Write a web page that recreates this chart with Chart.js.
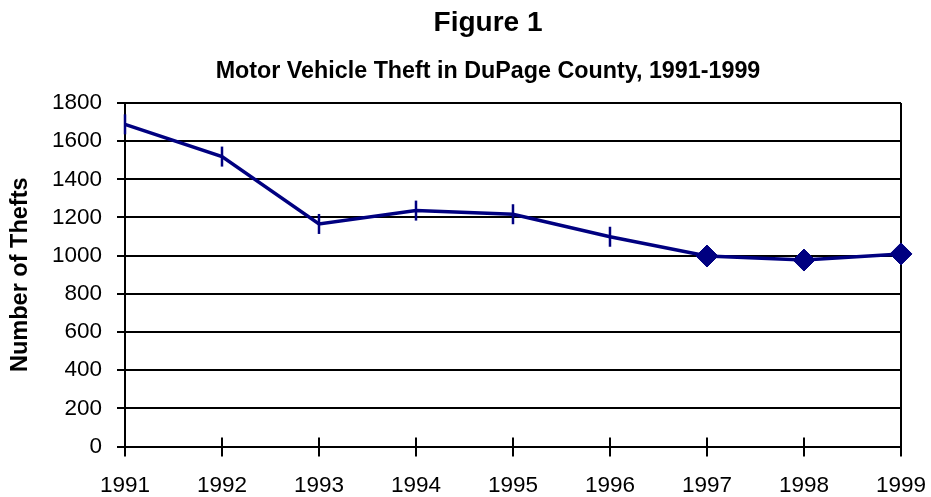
<!DOCTYPE html>
<html>
<head>
<meta charset="utf-8">
<script src="https://cdn.jsdelivr.net/npm/chart.js@4.4.0/dist/chart.umd.min.js"></script>
<style>
html,body{margin:0;padding:0;background:#fff;}
#wrap{width:931px;height:497px;}
</style>
</head>
<body>
<div id="wrap"><canvas id="c" width="931" height="497"></canvas></div>
<script>
// ---- data ----
const years = ['1991', '1992', '1993', '1994', '1995', '1996', '1997', '1998', '1999'];
const thefts = [1688, 1519, 1166, 1236, 1217, 1099, 998, 977, 1009];
const chartTitle = 'Figure 1';
const chartSubtitle = 'Motor Vehicle Theft in DuPage County, 1991-1999';
const yAxisTitle = 'Number of Thefts';
const yMin = 0, yMax = 1800, yStep = 200;
const diamondFromYear = '1997';

const FONT = "'Liberation Sans', Arial, Helvetica, sans-serif";
const NAVY = '#000080';
const diamondStart = years.indexOf(diamondFromYear);

// cross-style tick marks on the category axis (inside + outside of the axis line)
const crossTicks = {
  id: 'crossTicks',
  beforeDatasetsDraw(chart) {
    const {ctx, chartArea, scales: {x}} = chart;
    ctx.save();
    ctx.strokeStyle = '#000';
    ctx.lineWidth = 2;
    x.ticks.forEach((t, i) => {
      const px = x.getPixelForTick(i);
      ctx.beginPath();
      ctx.moveTo(px, chartArea.bottom - 9);
      ctx.lineTo(px, chartArea.bottom + 10);
      ctx.stroke();
    });
    ctx.restore();
  }
};

new Chart(document.getElementById('c'), {
  type: 'line',
  data: {
    labels: years,
    datasets: [{
      data: thefts,
      borderColor: NAVY,
      backgroundColor: NAVY,
      borderWidth: 3.5,
      tension: 0,
      clip: false,
      pointStyle: ctx => ctx.dataIndex < diamondStart ? 'line' : 'rectRot',
      rotation: ctx => ctx.dataIndex < diamondStart ? 90 : 0,
      pointRadius: ctx => ctx.dataIndex < diamondStart ? 10 : 11,
      pointBorderWidth: ctx => ctx.dataIndex < diamondStart ? 2.5 : 1,
      pointBorderColor: NAVY,
      pointBackgroundColor: NAVY
    }]
  },
  options: {
    responsive: false,
    animation: false,
    devicePixelRatio: 1,
    events: [],
    layout: { padding: { left: 50, right: 5, top: 0, bottom: 0 } },
    plugins: {
      legend: { display: false },
      tooltip: { enabled: false },
      title: {
        display: true,
        text: chartTitle,
        color: '#000',
        font: { family: FONT, size: 28, weight: 'bold' },
        padding: { top: 6, bottom: 0 }
      },
      subtitle: {
        display: true,
        text: chartSubtitle,
        color: '#000',
        font: { family: FONT, size: 23.3, weight: 'bold' },
        padding: { top: 17.9, bottom: 17.5 }
      }
    },
    scales: {
      x: {
        type: 'category',
        offset: false,
        grid: {
          offset: false,
          color: ctx => (ctx.index === years.length - 1 ? '#000' : 'rgba(0,0,0,0)'),
          tickColor: 'rgba(0,0,0,0)',
          lineWidth: 2,
          tickWidth: 2,
          tickLength: 28.5,
          drawOnChartArea: true
        },
        border: { color: '#000', width: 2 },
        ticks: {
          color: '#000',
          font: { family: FONT, size: 22.5, lineHeight: '12px' },
          padding: 5,
          maxRotation: 0,
          autoSkip: false
        }
      },
      y: {
        min: yMin,
        max: yMax,
        afterFit(scale) { scale.width = 75; },
        grid: {
          color: '#000',
          tickColor: '#000',
          lineWidth: 2,
          tickWidth: 2,
          tickLength: 8
        },
        border: { color: '#000', width: 2 },
        ticks: {
          stepSize: yStep,
          color: '#000',
          font: { family: FONT, size: 22.5, lineHeight: 1.0 },
          padding: 15,
          callback: v => String(v)
        },
        title: {
          display: true,
          text: yAxisTitle,
          color: '#000',
          font: { family: FONT, size: 23.5, weight: 'bold' },
          padding: { top: -43.1, bottom: 0 }
        }
      }
    }
  },
  plugins: [crossTicks]
});
</script>
</body>
</html>
